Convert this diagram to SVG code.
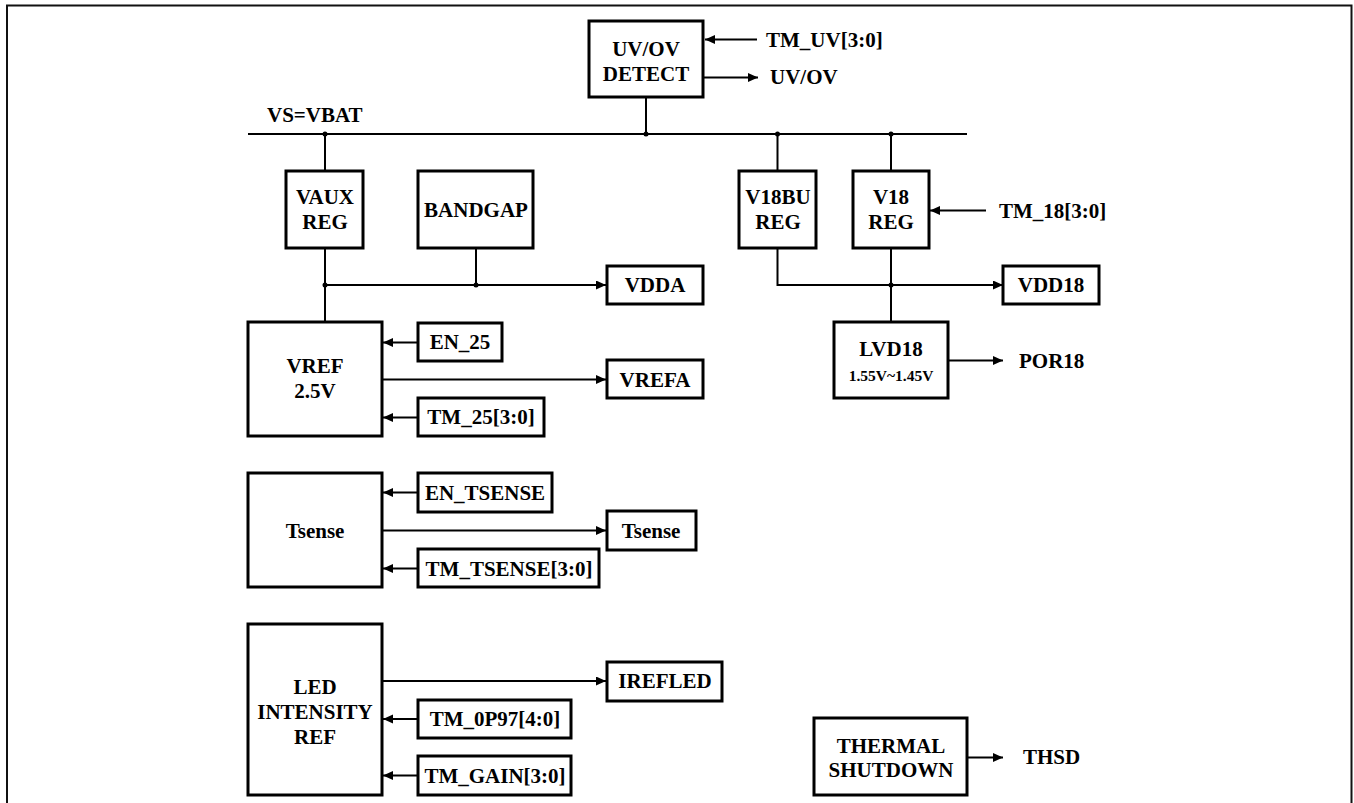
<svg xmlns="http://www.w3.org/2000/svg" width="1354" height="803" viewBox="0 0 1354 803">
<style>
.box{fill:#fff;stroke:#000;stroke-width:3}
.ln{fill:none;stroke:#000;stroke-width:2}
.t{font-family:"Liberation Serif","Times New Roman",serif;font-weight:bold;font-size:21px;fill:#000}
.c{text-anchor:middle}
.s{font-size:15.5px}
</style>
<defs>
<marker id="ah" markerUnits="userSpaceOnUse" markerWidth="11" markerHeight="10" refX="10" refY="4.5" orient="auto">
<path d="M0,0 L10,4.5 L0,9 z" fill="#000"/>
</marker>
</defs>
<rect width="1354" height="803" fill="#fff"/>
<path d="M7,803 V5.5 H1351.5 V803" fill="none" stroke="#111" stroke-width="2"/>

<g id="connectors">
<line class="ln" x1="248" y1="134" x2="967" y2="134"/>
<text class="t" x="267" y="122">VS=VBAT</text>
<line class="ln" x1="646" y1="97" x2="646" y2="134"/>
<line class="ln" x1="325" y1="134" x2="325" y2="171"/>
<line class="ln" x1="777.5" y1="134" x2="777.5" y2="171"/>
<line class="ln" x1="891" y1="134" x2="891" y2="171"/>
<circle cx="646" cy="134" r="2.5"/>
<circle cx="325" cy="134" r="2.5"/>
<circle cx="777.5" cy="134" r="2.5"/>
<circle cx="891" cy="134" r="2.5"/>
<line class="ln" x1="757" y1="39.5" x2="705" y2="39.5" marker-end="url(#ah)"/>
<text class="t" x="766" y="47">TM_UV[3:0]</text>
<line class="ln" x1="704" y1="77.5" x2="758" y2="77.5" marker-end="url(#ah)"/>
<text class="t" x="770" y="84">UV/OV</text>
<line class="ln" x1="325" y1="248" x2="325" y2="322"/>
<line class="ln" x1="476" y1="248" x2="476" y2="285"/>
<line class="ln" x1="325" y1="285" x2="606" y2="285" marker-end="url(#ah)"/>
<circle cx="325" cy="285" r="2.5"/>
<circle cx="476" cy="285" r="2.5"/>
<line class="ln" x1="418" y1="342.5" x2="383" y2="342.5" marker-end="url(#ah)"/>
<line class="ln" x1="383" y1="379.5" x2="606" y2="379.5" marker-end="url(#ah)"/>
<line class="ln" x1="418" y1="417.5" x2="383" y2="417.5" marker-end="url(#ah)"/>
<line class="ln" x1="986" y1="210.5" x2="930" y2="210.5" marker-end="url(#ah)"/>
<text class="t" x="999" y="218">TM_18[3:0]</text>
<path class="ln" d="M777.5,248 V285 H1003" marker-end="url(#ah)"/>
<line class="ln" x1="891" y1="248" x2="891" y2="322"/>
<circle cx="891" cy="285" r="2.5"/>
<line class="ln" x1="949" y1="360.5" x2="1003" y2="360.5" marker-end="url(#ah)"/>
<text class="t" x="1019" y="368">POR18</text>
<line class="ln" x1="418" y1="492.5" x2="383" y2="492.5" marker-end="url(#ah)"/>
<line class="ln" x1="383" y1="530.5" x2="606" y2="530.5" marker-end="url(#ah)"/>
<line class="ln" x1="418" y1="568.5" x2="383" y2="568.5" marker-end="url(#ah)"/>
<line class="ln" x1="383" y1="681" x2="606" y2="681" marker-end="url(#ah)"/>
<line class="ln" x1="418" y1="719" x2="383" y2="719" marker-end="url(#ah)"/>
<line class="ln" x1="418" y1="775.5" x2="383" y2="775.5" marker-end="url(#ah)"/>
<line class="ln" x1="968" y1="757.5" x2="1003" y2="757.5" marker-end="url(#ah)"/>
<text class="t" x="1023" y="764">THSD</text>
</g>

<g id="uvov"><rect class="box" x="589" y="21" width="114" height="76"/>
<text class="t c" x="646" y="56">UV/OV</text><text class="t c" x="646" y="81">DETECT</text></g>

<g id="vaux"><rect class="box" x="286" y="171" width="77" height="77"/>
<text class="t c" x="325" y="204">VAUX</text><text class="t c" x="325" y="229">REG</text></g>

<g id="bandgap"><rect class="box" x="418" y="171" width="115" height="77"/>
<text class="t c" x="476" y="217">BANDGAP</text></g>

<g id="v18bu"><rect class="box" x="739" y="171" width="77" height="77"/>
<text class="t c" x="778" y="204">V18BU</text><text class="t c" x="778" y="229">REG</text></g>

<g id="v18"><rect class="box" x="853" y="171" width="76" height="77"/>
<text class="t c" x="891" y="204">V18</text><text class="t c" x="891" y="229">REG</text></g>

<g id="vdda"><rect class="box" x="607" y="266" width="96" height="38"/>
<text class="t c" x="655" y="292">VDDA</text></g>

<g id="vdd18"><rect class="box" x="1003" y="266" width="96" height="38"/>
<text class="t c" x="1051" y="292">VDD18</text></g>

<g id="vref"><rect class="box" x="248" y="322" width="134" height="114"/>
<text class="t c" x="315" y="373">VREF</text><text class="t c" x="315" y="398">2.5V</text></g>

<g id="en25"><rect class="box" x="418" y="323" width="84" height="38"/>
<text class="t c" x="460" y="349">EN_25</text></g>

<g id="vrefa"><rect class="box" x="607" y="360" width="96" height="38"/>
<text class="t c" x="655" y="387">VREFA</text></g>

<g id="tm25"><rect class="box" x="418" y="398" width="126" height="38"/>
<text class="t c" x="481" y="424">TM_25[3:0]</text></g>

<g id="lvd18"><rect class="box" x="834" y="322" width="114" height="76"/>
<text class="t c" x="891" y="356">LVD18</text><text class="t c s" x="891" y="381">1.55V~1.45V</text></g>

<g id="tsense"><rect class="box" x="248" y="473" width="134" height="114"/>
<text class="t c" x="315" y="538">Tsense</text></g>

<g id="en_tsense"><rect class="box" x="418" y="473" width="134" height="39"/>
<text class="t c" x="485" y="500">EN_TSENSE</text></g>

<g id="tsense_out"><rect class="box" x="607" y="511" width="89" height="39"/>
<text class="t c" x="651" y="538">Tsense</text></g>

<g id="tm_tsense"><rect class="box" x="418" y="549" width="181" height="38"/>
<text class="t c" x="509" y="576">TM_TSENSE[3:0]</text></g>

<g id="led"><rect class="box" x="248" y="624" width="134" height="171"/>
<text class="t c" x="315" y="694">LED</text><text class="t c" x="315" y="719">INTENSITY</text><text class="t c" x="315" y="744">REF</text></g>

<g id="irefled"><rect class="box" x="607" y="662" width="115" height="39"/>
<text class="t c" x="665" y="688">IREFLED</text></g>

<g id="tm0p97"><rect class="box" x="418" y="700" width="153" height="38"/>
<text class="t c" x="495" y="726">TM_0P97[4:0]</text></g>

<g id="tmgain"><rect class="box" x="418" y="756" width="153" height="39"/>
<text class="t c" x="495" y="783">TM_GAIN[3:0]</text></g>

<g id="thermal"><rect class="box" x="814" y="718" width="153" height="77"/>
<text class="t c" x="891" y="753">THERMAL</text><text class="t c" x="891" y="777">SHUTDOWN</text></g>
</svg>
